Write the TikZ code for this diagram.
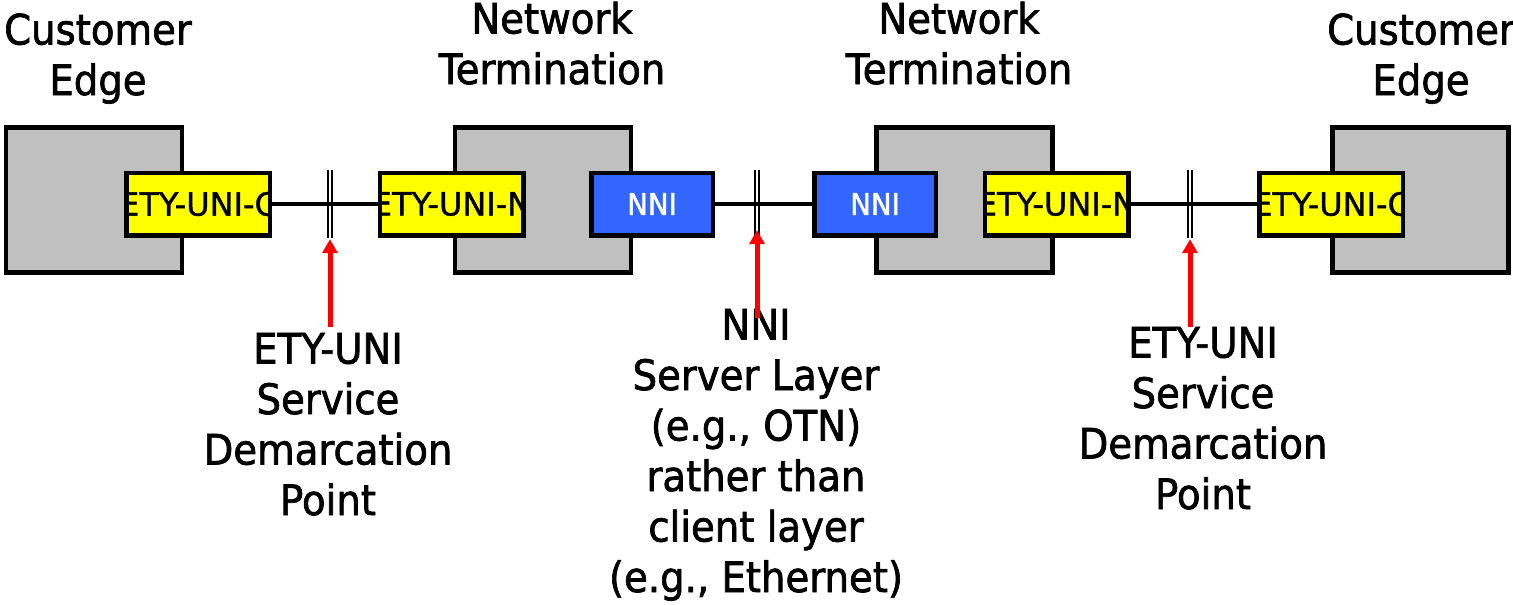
\documentclass[tikz,border=0pt]{standalone}
\usepackage{fontspec}
\usetikzlibrary{arrows.meta}
\newfontfamily\lblfont{DejaVu Sans}[FakeStretch=0.92,FakeBold=1.6]
\newfontfamily\boxfont{DejaVu Sans}[FakeBold=1.2]
\definecolor{boxgray}{HTML}{C0C0C0}
\definecolor{uniyellow}{HTML}{FFFF00}
\definecolor{nniblue}{HTML}{3366FF}
\definecolor{ptrred}{HTML}{FF0000}
\begin{document}
\begin{tikzpicture}[x=1pt,y=-1pt,
  equip/.style={draw=black, line width=4.5pt, fill=boxgray, minimum width=176pt,
    minimum height=145pt, inner sep=0pt},
  port/.style={draw=black, line width=4.5pt, minimum height=62.5pt, inner sep=0pt},
  uniport/.style={port, fill=uniyellow, minimum width=143.5pt,
    path picture={\node[font=\boxfont\fontsize{32}{38}\selectfont, inner sep=0pt]
      at (path picture bounding box.center) {#1};}},
  nniport/.style={port, fill=nniblue, minimum width=121.5pt, text=white,
    font=\lblfont\fontsize{30}{36}\selectfont},
  demarc/.style={minimum width=6pt, minimum height=68pt, inner sep=0pt},
  link/.style={line width=3.2pt},
  barline/.style={line width=2.2pt},
  pointer/.style={draw=ptrred, line width=5pt, -{Triangle[width=15pt,length=14pt]}},
  lbl/.style={font=\lblfont\fontsize{42}{50.5}\selectfont, align=center,
    inner sep=0pt, anchor=north}
]
\useasboundingbox (0,0) rectangle (1513,605);

% equipment
\node[equip] (ce1) at (94,200) {};
\node[equip] (nt1) at (543,200) {};
\node[equip] (nt2) at (964.5,200) {};
\node[equip] (ce2) at (1420.5,200) {};

% interface ports
\node[uniport=ETY-UNI-C] (uc1) at (198,204) {};
\node[uniport=ETY-UNI-N] (un1) at (451.5,204) {};
\node[nniport] (nni1) at (652,204) {NNI};
\node[nniport] (nni2) at (875,204) {NNI};
\node[uniport=ETY-UNI-N] (un2) at (1056.5,204) {};
\node[uniport=ETY-UNI-C] (uc2) at (1331,204) {};

% demarcation points
\node[demarc] (d1) at (330,204) {};
\node[demarc] (d2) at (757,204) {};
\node[demarc] (d3) at (1190,204) {};

% links between ports
\draw[link] (uc1.east) -- (un1.west);
\draw[link] (nni1.east) -- (nni2.west);
\draw[link] (un2.east) -- (uc2.west);

% double bars marking each demarcation point
\foreach \d in {d1,d2,d3}{
  \draw[barline] ([xshift=-2.2pt]\d.north) -- ([xshift=-2.2pt]\d.south);
  \draw[barline] ([xshift=2.2pt]\d.north) -- ([xshift=2.2pt]\d.south);
}

% titles
\node[lbl] (ce1t) at (98,9) {\strut Customer\\Edge};
\node[lbl] (nt1t) at (552,-2) {\strut Network\\Termination};
\node[lbl] (nt2t) at (959,-2) {\strut Network\\Termination};
\node[lbl] (ce2t) at (1421,9) {\strut Customer\\Edge};

% explanations
\node[lbl] (l1) at (328,328) {\strut ETY-UNI\\Service\\Demarcation\\Point};
\node[lbl] (l2) at (756,304) {\strut NNI\\Server Layer\\(e.g., OTN)\\rather than\\client layer\\(e.g., Ethernet)};
\node[lbl] (l3) at (1203,322) {\strut ETY-UNI\\Service\\Demarcation\\Point};

% pointers
\coordinate (p1) at (330,327);
\coordinate (p2) at (757,318);
\coordinate (p3) at (1190,327);
\draw[pointer] (p1) -- ([yshift=-1pt]d1.south);
\draw[pointer] (p2) -- ([yshift=8pt]d2.south);
\draw[pointer] (p3) -- ([yshift=-1pt]d3.south);
\end{tikzpicture}
\end{document}
